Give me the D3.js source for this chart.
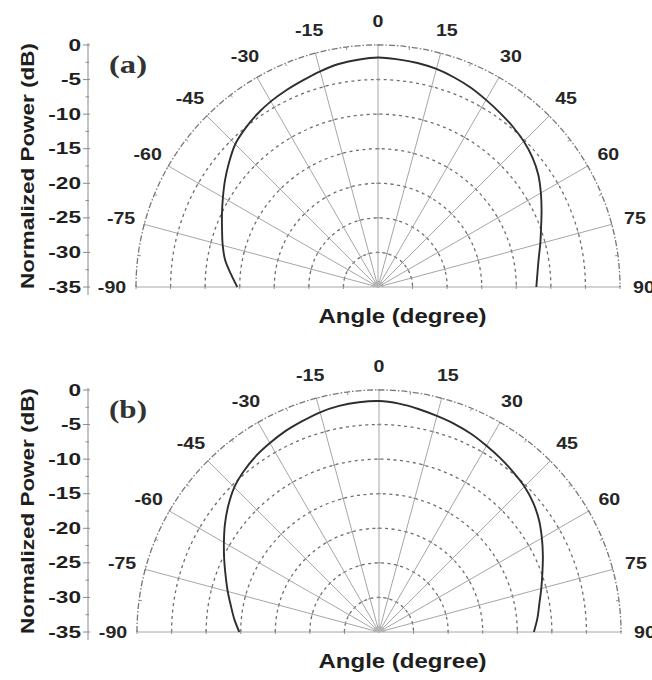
<!DOCTYPE html>
<html>
<head>
<meta charset="utf-8">
<script src="https://cdn.jsdelivr.net/npm/d3@7"></script>
<style>
  html, body { margin: 0; padding: 0; background: #fff; }
  svg { display: block; }
  text { font-family: "Liberation Sans", Arial, Helvetica, sans-serif; font-weight: bold; fill: #1e1e1e; }
</style>
</head>
<body>
<svg id="chart" width="652" height="680"></svg>
<script>
// Measured radiation patterns: angle (degree) vs normalized power (dB)
const angles = [-90, -85, -80, -75, -70, -65, -60, -55, -50, -45, -40, -35, -30, -25, -20, -15, -10, -5,
                0, 5, 10, 15, 20, 25, 30, 35, 40, 45, 50, 55, 60, 65, 70, 75, 80, 85, 90];
const powerA = [-14.65, -13.65, -12.55, -11.75, -11.0, -10.1, -9.1, -8.0, -6.9, -5.8, -5.1, -4.5, -4.0, -3.6, -3.2, -2.7, -2.25, -2.0,
                -1.8, -1.95, -2.1, -2.35, -2.75, -3.2, -3.75, -4.25, -4.7, -5.2, -5.85, -6.7, -7.8, -8.9, -9.9, -10.7, -11.4, -11.85, -12.1];
const powerB = [-14.8, -14.0, -13.25, -12.35, -11.4, -10.3, -9.1, -7.8, -6.55, -5.4, -4.6, -3.95, -3.45, -2.95, -2.55, -2.1, -1.8, -1.65,
                -1.6, -1.85, -2.25, -2.65, -3.0, -3.4, -3.9, -4.35, -4.8, -5.25, -5.9, -6.75, -7.8, -8.85, -9.85, -10.7, -11.45, -12.0, -12.6];

// Axis ticks
const angleTicks = [-90, -75, -60, -45, -30, -15, 0, 15, 30, 45, 60, 75, 90];
const powerTicks = [0, -5, -10, -15, -20, -25, -30, -35];
const panelLabels = ["(a)", "(b)"];
const xTitle = "Angle (degree)";
const yTitle = "Normalized Power (dB)";

const svg = d3.select("#chart");
const R = 242;
const panels = [
  { cx: 378, cy: 287, values: powerA, label: panelLabels[0] },
  { cx: 379, cy: 632, values: powerB, label: panelLabels[1] }
];

// widen glyphs horizontally to a given factor of their natural length
function widen(sel, k) {
  sel.each(function () {
    const w = this.getComputedTextLength();
    this.setAttribute("textLength", (w * k).toFixed(1));
    this.setAttribute("lengthAdjust", "spacingAndGlyphs");
  });
}
function fitTo(sel, len) {
  sel.attr("textLength", len).attr("lengthAdjust", "spacingAndGlyphs");
}

const rad = d => d * Math.PI / 180;

// open upper half circle of radius rr centred on the origin
function halfRing(rr) {
  const pth = d3.path();
  pth.moveTo(-rr, 0);
  pth.arc(0, 0, rr, Math.PI, 2 * Math.PI);
  return pth.toString();
}

panels.forEach(p => {
  const r = d3.scaleLinear().domain([-35, 0]).range([0, R]);
  const y = d3.scaleLinear().domain([-35, 0]).range([p.cy, p.cy - R]);
  const g = svg.append("g").attr("transform", `translate(${p.cx},${p.cy})`);
  const px = (deg, rr) => rr * Math.sin(rad(deg));
  const py = (deg, rr) => -rr * Math.cos(rad(deg));

  // dotted rings at each 5 dB step
  powerTicks.filter(v => v > -35 && v < 0).forEach(v => {
    g.append("path")
      .attr("d", halfRing(r(v)))
      .attr("fill", "none").attr("stroke", "#6e6e6e")
      .attr("stroke-width", 1.3).attr("stroke-dasharray", "3,3.5");
  });

  // radial spokes
  angleTicks.forEach(a => {
    g.append("line")
      .attr("x1", 0).attr("y1", 0)
      .attr("x2", px(a, R)).attr("y2", py(a, R))
      .attr("stroke", "#9c9c9c").attr("stroke-width", 0.9);
    // small cross ticks where the spoke meets each ring
    powerTicks.filter(v => v > -35).forEach(v => {
      const rr = r(v);
      const nx = Math.cos(rad(a)) * 2, ny = Math.sin(rad(a)) * 2;
      g.append("line")
        .attr("x1", px(a, rr) - nx).attr("y1", py(a, rr) - ny)
        .attr("x2", px(a, rr) + nx).attr("y2", py(a, rr) + ny)
        .attr("stroke", "#8a8a8a").attr("stroke-width", 0.9);
    });
  });

  // outer boundary ring
  g.append("path")
    .attr("d", halfRing(R))
    .attr("fill", "none").attr("stroke", "#777")
    .attr("stroke-width", 1.3).attr("stroke-dasharray", "6,2,1.5,2");

  // minor ticks on the boundary halfway between spokes
  d3.range(-82.5, 90, 15).forEach(a => {
    g.append("line")
      .attr("x1", px(a, R - 3)).attr("y1", py(a, R - 3))
      .attr("x2", px(a, R)).attr("y2", py(a, R))
      .attr("stroke", "#888").attr("stroke-width", 0.9);
  });

  // hub where the spokes meet
  g.append("path")
    .attr("d", d3.arc()({ innerRadius: 0, outerRadius: 6, startAngle: rad(-90), endAngle: rad(90) }))
    .attr("fill", "#b4b4b4");

  // angle labels around the rim
  const lab = g.selectAll("text.ang").data(angleTicks).join("text")
    .attr("class", "ang")
    .attr("x", a => px(a, 266)).attr("y", a => py(a, 266))
    .attr("text-anchor", "middle").attr("dominant-baseline", "central")
    .attr("font-size", 17).style("fill", "#262626")
    .text(d => d);
  widen(lab, 1.15);

  // pattern curve
  const line = d3.lineRadial()
    .angle((d, i) => rad(angles[i]))
    .radius(d => r(d))
    .curve(d3.curveCatmullRom);
  g.append("path")
    .attr("d", line(p.values))
    .attr("fill", "none").attr("stroke", "#2e2e2e").attr("stroke-width", 1.9);

  // power axis on the left
  const ax = svg.append("g").attr("transform", "translate(88,0)");
  ax.append("line").attr("x1", 0).attr("x2", 0)
    .attr("y1", p.cy - R - 2).attr("y2", p.cy + 8)
    .attr("stroke", "#8a8a8a").attr("stroke-width", 1);
  const minor = d3.range(-32.5, 0, 5);
  ax.selectAll("line.minor").data(minor).join("line")
    .attr("class", "minor")
    .attr("x1", -2.5).attr("x2", 1).attr("y1", d => y(d)).attr("y2", d => y(d))
    .attr("stroke", "#8a8a8a");
  ax.selectAll("line.major").data(powerTicks).join("line")
    .attr("class", "major")
    .attr("x1", -5).attr("x2", 2).attr("y1", d => y(d)).attr("y2", d => y(d))
    .attr("stroke", "#8a8a8a");
  const tl = ax.selectAll("text").data(powerTicks).join("text")
    .attr("x", -7).attr("y", d => y(d))
    .attr("text-anchor", "end").attr("dominant-baseline", "central")
    .attr("font-size", 17)
    .text(d => d);
  widen(tl, 1.33);

  // axis titles
  const xt = svg.append("text")
    .attr("x", 402.5).attr("y", p.cy + 36)
    .attr("text-anchor", "middle").attr("font-size", 20)
    .text(xTitle);
  fitTo(xt, 168);

  const yt = svg.append("text")
    .attr("transform", `translate(33.5,${p.cy - 121}) rotate(-90)`)
    .attr("text-anchor", "middle").attr("font-size", 19)
    .text(yTitle);
  fitTo(yt, 246);

  // panel tag
  const pl = svg.append("text")
    .attr("x", 109).attr("y", p.cy - 214)
    .style("font-family", "'Liberation Serif', 'Times New Roman', serif")
    .attr("font-size", 25).style("fill", "#333")
    .text(p.label);
  fitTo(pl, 38);
});
</script>
</body>
</html>
